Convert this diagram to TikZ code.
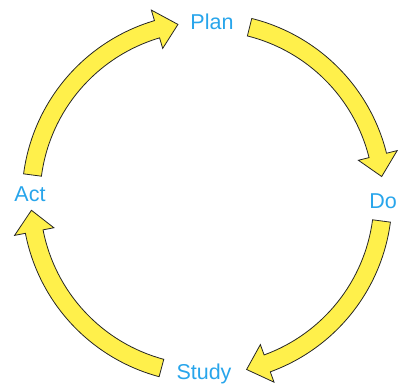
\documentclass[tikz,border=0pt]{standalone}
\usepackage{fontspec}
\setmainfont{Liberation Sans}
\definecolor{arrowyellow}{RGB}{255,240,75}
\definecolor{labelblue}{RGB}{40,165,235}
\tikzset{
  cyclearrow/.style={fill=arrowyellow, draw=black!85, line width=0.8pt, line join=miter},
  phase/.style={text=labelblue, font=\fontsize{21.5}{25}\selectfont, inner sep=0pt, anchor=base}
}
\newcommand\cyclearc[2]{%
  \pgfmathsetmacro\headang{#2+7}%
  \path[cyclearrow] (#1:185pt) arc[start angle=#1, end angle=\headang, radius=185pt]
    -- (\headang:196pt) -- (#2:176pt) -- (\headang:156pt) -- (\headang:167pt)
    arc[start angle=\headang, end angle=#1, radius=167pt] -- cycle;
}
\begin{document}
\begin{tikzpicture}
\useasboundingbox (0,0) rectangle (398pt,387pt);
\begin{scope}[shift={(207pt,189pt)}]
  \cyclearc{172.5}{99.5}
  \cyclearc{76}{7}
  \cyclearc{-7.5}{-77}
  \cyclearc{255}{184}
\end{scope}
\node[phase] (plan) at (212pt,357pt) {Plan};
\node[phase] (do) at (383pt,178pt) {Do};
\node[phase] (study) at (204pt,7pt) {Study};
\node[phase] (act) at (30pt,185pt) {Act};
\end{tikzpicture}
\end{document}
